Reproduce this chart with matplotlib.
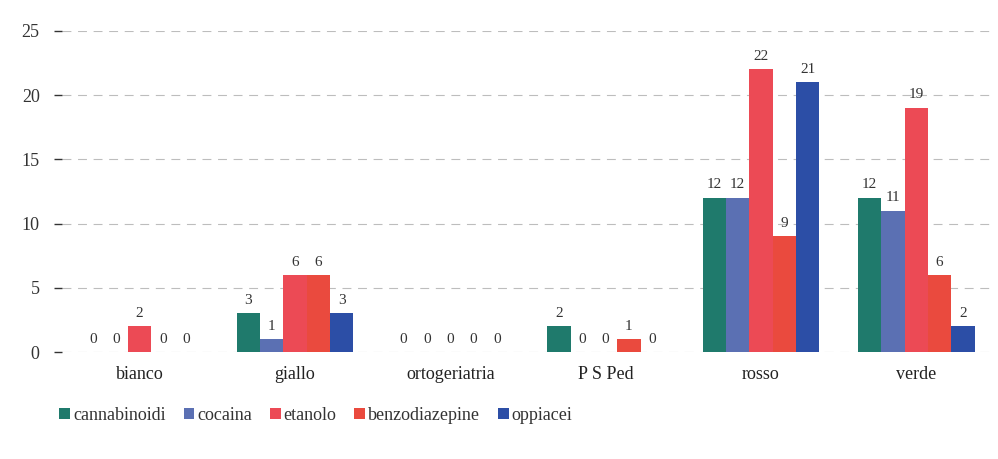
import numpy as np
import matplotlib
matplotlib.use("Agg")
from matplotlib import pyplot as plt

plt.rcParams['font.family'] = ['Liberation Serif', 'DejaVu Serif']

categories = ['bianco', 'giallo', 'ortogeriatria', 'P S Ped', 'rosso', 'verde']
series_names = ['cannabinoidi', 'cocaina', 'etanolo', 'benzodiazepine', 'oppiacei']
cannabinoidi = [0, 3, 0, 2, 12, 12]
cocaina = [0, 1, 0, 0, 12, 11]
etanolo = [2, 6, 0, 0, 22, 19]
benzodiazepine = [0, 6, 0, 1, 9, 6]
oppiacei = [0, 3, 0, 0, 21, 2]
y_ticks = [0, 5, 10, 15, 20, 25]

values = [cannabinoidi, cocaina, etanolo, benzodiazepine, oppiacei]
colors = ['#1f7a6c', '#5b70b3', '#ec4a55', '#ea4a3e', '#2c4ea6']

fig = plt.figure(figsize=(9.98, 4.59), dpi=100)
ax = fig.add_axes([0.062, 0.233, 0.934, 0.70])

x = np.arange(len(categories))
w = 0.15
for i, (name, vals, c) in enumerate(zip(series_names, values, colors)):
    pos = x + (i - 2) * w
    ax.bar(pos, vals, width=w, color=c, label=name, zorder=3)
    for p, v in zip(pos, vals):
        ax.text(p, v + 0.5, str(v), ha='center', va='bottom',
                fontsize=11, color='#333333', zorder=4)

ax.set_xlim(-0.5, len(categories) - 0.5)
ax.set_ylim(0, 25)
ax.set_yticks(y_ticks)
ax.set_xticks(x)
ax.set_xticklabels(categories, fontsize=13, color='#222222')
ax.tick_params(axis='y', labelsize=13, colors='#333333', length=6, width=1, pad=10)
ax.tick_params(axis='x', length=0, pad=10)
ax.yaxis.grid(True, linestyle=(0, (8, 6)), color='#bdbdbd', linewidth=0.8, zorder=0)
for s in ['top', 'right', 'left', 'bottom']:
    ax.spines[s].set_visible(False)

ax.legend(loc='upper left', bbox_to_anchor=(-0.02, -0.12), ncol=5,
          frameon=False, fontsize=13, handlelength=0.6, handleheight=0.6,
          handletextpad=0.15, columnspacing=1.0, labelcolor='#333333')

fig.savefig('out.png', dpi=100)
